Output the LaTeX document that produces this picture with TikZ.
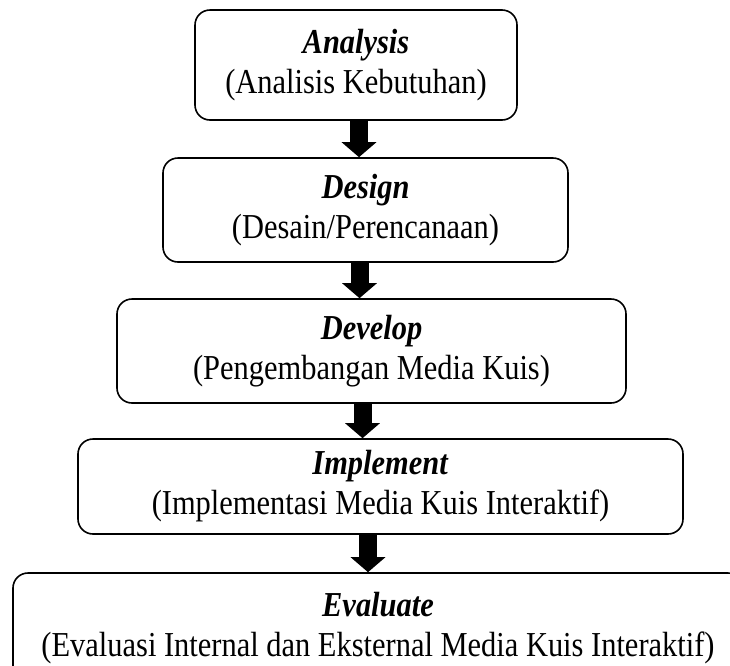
\documentclass[tikz,border=0pt]{standalone}
\usepackage{fontspec}
\setmainfont{Liberation Serif}[FakeStretch=0.87]
\usetikzlibrary{arrows.meta}
\begin{document}
\begin{tikzpicture}[x=1pt,y=-1pt,
  stage/.style={draw=black, line width=1.6pt, rounded corners=15pt, align=center,
    inner sep=0pt, font=\fontsize{35}{40}\selectfont},
  flow/.style={line width=18pt, -{Triangle[width=34pt,length=15pt]}}]
\useasboundingbox (0,0) rectangle (730,665);
\clip (0,0) rectangle (730,665);
\node[stage, minimum width=322pt, minimum height=110pt] (a) at (356,65)
  {\textbf{\textit{Analysis}}\\(Analisis Kebutuhan)};
\node[stage, minimum width=405pt, minimum height=104pt] (b) at (365.5,210)
  {\textbf{\textit{Design}}\\(Desain/Perencanaan)};
\node[stage, minimum width=509pt, minimum height=104pt] (c) at (371.5,351)
  {\textbf{\textit{Develop}}\\(Pengembangan Media Kuis)};
\node[stage, minimum width=605pt, minimum height=95pt] (d) at (380.5,486.5)
  {\textbf{\textit{Implement}}\\(Implementasi Media Kuis Interaktif)};
\node[stage, minimum width=730pt, minimum height=110pt] (e) at (378,628)
  {\textbf{\textit{Evaluate}}\\(Evaluasi Internal dan Eksternal Media Kuis Interaktif)};
\coordinate (x1) at (359,0);
\coordinate (x2) at (359.5,0);
\coordinate (x3) at (362.5,0);
\coordinate (x4) at (368,0);
\draw[flow] (x1 |- a.south) -- (x1 |- b.north);
\draw[flow] (x2 |- b.south) -- (x2 |- c.north);
\draw[flow] (x3 |- c.south) -- (x3 |- d.north);
\draw[flow] (x4 |- d.south) -- (x4 |- e.north);
\end{tikzpicture}
\end{document}
